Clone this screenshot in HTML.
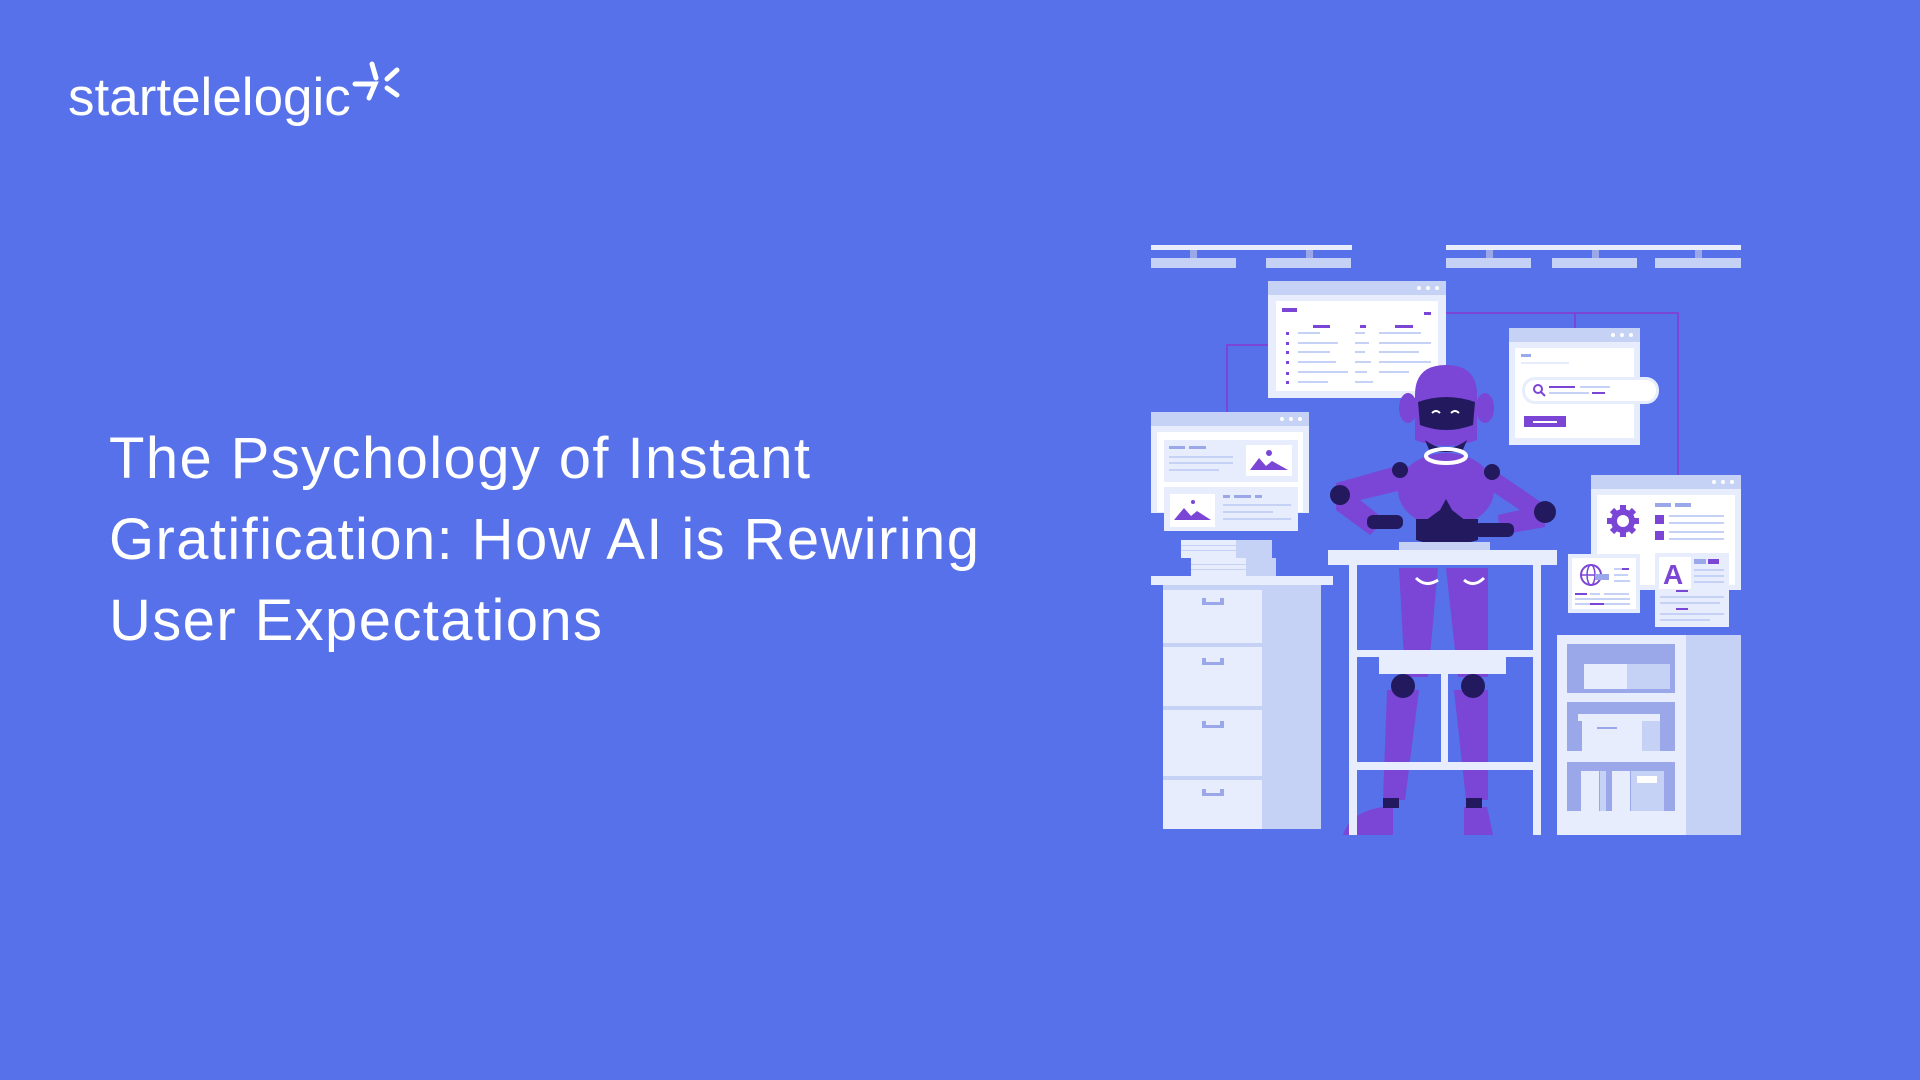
<!DOCTYPE html>
<html><head><meta charset="utf-8"><style>
html,body{margin:0;padding:0;}
body{width:1920px;height:1080px;background:#5671E9;position:relative;overflow:hidden;font-family:"Liberation Sans",sans-serif;}
.logo{position:absolute;left:68px;top:66px;font-size:53px;color:#fff;letter-spacing:0px;line-height:64px;}
.title{position:absolute;left:109px;top:418px;font-size:58px;line-height:81px;color:#fff;letter-spacing:1.4px;width:1000px;}
svg{position:absolute;left:0;top:0;}
</style></head><body>
<div class="logo">startelelogic</div>
<div class="title">The Psychology of Instant<br>Gratification: How AI is Rewiring<br>User Expectations</div>
<svg width="1920" height="1080" viewBox="0 0 1920 1080">
<g stroke="#fff" stroke-width="5" stroke-linecap="round">
<line x1="372" y1="64" x2="376" y2="78"/><line x1="397" y1="70" x2="387" y2="79"/><line x1="397" y1="95" x2="387" y2="88"/>
<path d="M355 84 L375 84 L369 98" fill="none"/>
</g>
<g fill="#C5D1F5">
<rect x="1151" y="245" width="201" height="5" fill="#E8EDFD"/><rect x="1446" y="245" width="295" height="5" fill="#E8EDFD"/>
<rect x="1151" y="258" width="85" height="10"/><rect x="1266" y="258" width="85" height="10"/>
<rect x="1446" y="258" width="85" height="10"/><rect x="1552" y="258" width="85" height="10"/><rect x="1655" y="258" width="86" height="10"/>
<rect x="1190" y="250" width="7" height="8" fill="#9AA8EA"/><rect x="1306" y="250" width="7" height="8" fill="#9AA8EA"/>
<rect x="1486" y="250" width="7" height="8" fill="#9AA8EA"/><rect x="1592" y="250" width="7" height="8" fill="#9AA8EA"/><rect x="1695" y="250" width="7" height="8" fill="#9AA8EA"/>
</g>
<g stroke="#7B45D6" stroke-width="2" fill="none">
<path d="M1446 313 H1678 V475"/><path d="M1575 313 V328"/><path d="M1268 345 H1227 V412"/>
</g>
<rect x="1268" y="281" width="178" height="117" fill="#E8EDFD"/><rect x="1268" y="281" width="178" height="14" fill="#C5D1F5"/>
<rect x="1276" y="301" width="162" height="90" fill="#fff"/>
<g fill="#fff"><circle cx="1419" cy="288" r="2"/><circle cx="1428" cy="288" r="2"/><circle cx="1437" cy="288" r="2"/></g>
<g fill="#7B45D6"><rect x="1282" y="308" width="15" height="4"/><rect x="1424" y="312" width="7" height="3"/><rect x="1313" y="325" width="17" height="3"/><rect x="1360" y="325" width="6" height="3"/><rect x="1395" y="325" width="18" height="3"/>
<rect x="1286" y="332" width="3" height="3"/><rect x="1286" y="342" width="3" height="3"/><rect x="1286" y="351" width="3" height="3"/><rect x="1286" y="361" width="3" height="3"/><rect x="1286" y="372" width="3" height="3"/><rect x="1286" y="381" width="3" height="3"/></g>
<g fill="#C5D1F5"><rect x="1298" y="332" width="22" height="2"/><rect x="1298" y="342" width="40" height="2"/><rect x="1298" y="351" width="32" height="2"/><rect x="1298" y="361" width="38" height="2"/><rect x="1298" y="371" width="50" height="2"/><rect x="1298" y="381" width="30" height="2"/>
<rect x="1355" y="332" width="10" height="2"/><rect x="1355" y="342" width="14" height="2"/><rect x="1355" y="351" width="10" height="2"/><rect x="1355" y="361" width="16" height="2"/><rect x="1355" y="371" width="12" height="2"/><rect x="1355" y="381" width="18" height="2"/>
<rect x="1379" y="332" width="42" height="2"/><rect x="1379" y="342" width="52" height="2"/><rect x="1379" y="351" width="40" height="2"/><rect x="1379" y="361" width="52" height="2"/><rect x="1379" y="371" width="30" height="2"/></g>
<rect x="1509" y="328" width="131" height="117" fill="#E8EDFD"/><rect x="1509" y="328" width="131" height="14" fill="#C5D1F5"/>
<rect x="1515" y="348" width="119" height="90" fill="#fff"/>
<g fill="#fff"><circle cx="1613" cy="335" r="2"/><circle cx="1622" cy="335" r="2"/><circle cx="1631" cy="335" r="2"/></g>
<rect x="1521" y="354" width="10" height="3" fill="#9AA8EA"/><rect x="1521" y="362" width="48" height="2" fill="#E8EDFD"/>
<rect x="1522" y="377" width="137" height="27" rx="13" fill="#E8EDFD"/><rect x="1525" y="380" width="131" height="21" rx="10" fill="#fff"/>
<circle cx="1538" cy="389" r="4" fill="none" stroke="#7B45D6" stroke-width="2"/><line x1="1541" y1="392" x2="1545" y2="396" stroke="#7B45D6" stroke-width="2"/>
<rect x="1549" y="386" width="26" height="2" fill="#7B45D6"/><rect x="1580" y="386" width="30" height="2" fill="#C5D1F5"/><rect x="1549" y="392" width="40" height="2" fill="#C5D1F5"/><rect x="1592" y="392" width="13" height="2" fill="#7B45D6"/>
<rect x="1524" y="416" width="42" height="11" fill="#7B45D6"/><rect x="1533" y="421" width="24" height="2" fill="#fff"/>
<rect x="1151" y="412" width="158" height="101" fill="#E8EDFD"/><rect x="1151" y="412" width="158" height="14" fill="#C5D1F5"/>
<rect x="1157" y="432" width="146" height="80" fill="#fff"/>
<g fill="#fff"><circle cx="1282" cy="419" r="2"/><circle cx="1291" cy="419" r="2"/><circle cx="1300" cy="419" r="2"/></g>
<rect x="1164" y="440" width="134" height="42" fill="#E8EDFD"/>
<rect x="1246" y="445" width="46" height="31" fill="#fff"/><path d="M1250 470 L1259 458 L1266 466 L1272 461 L1288 470Z" fill="#7B45D6"/><circle cx="1269" cy="453" r="3" fill="#7B45D6"/>
<rect x="1169" y="446" width="16" height="3" fill="#9AA8EA"/><rect x="1189" y="446" width="17" height="3" fill="#9AA8EA"/>
<g fill="#C5D1F5"><rect x="1169" y="456" width="64" height="2"/><rect x="1169" y="462" width="64" height="2"/><rect x="1169" y="469" width="50" height="2"/></g>
<rect x="1164" y="487" width="134" height="44" fill="#E8EDFD"/>
<rect x="1170" y="494" width="45" height="33" fill="#fff"/><path d="M1174 520 L1184 508 L1191 516 L1197 511 L1211 520Z" fill="#7B45D6"/><circle cx="1193" cy="502" r="2" fill="#7B45D6"/>
<g fill="#9AA8EA"><rect x="1223" y="495" width="7" height="3"/><rect x="1234" y="495" width="17" height="3"/><rect x="1255" y="495" width="7" height="3"/></g>
<g fill="#C5D1F5"><rect x="1223" y="504" width="68" height="2"/><rect x="1223" y="511" width="50" height="2"/><rect x="1223" y="518" width="68" height="2"/></g>
<rect x="1591" y="475" width="150" height="115" fill="#E8EDFD"/><rect x="1591" y="475" width="150" height="14" fill="#C5D1F5"/>
<rect x="1597" y="495" width="138" height="90" fill="#fff"/>
<g fill="#fff"><circle cx="1714" cy="482" r="2"/><circle cx="1723" cy="482" r="2"/><circle cx="1732" cy="482" r="2"/></g>
<circle cx="1623" cy="521" r="12" fill="#7B45D6"/><g stroke="#7B45D6" stroke-width="6"><line x1="1623" y1="505" x2="1623" y2="537"/><line x1="1607" y1="521" x2="1639" y2="521"/><line x1="1612" y1="510" x2="1634" y2="532"/><line x1="1634" y1="510" x2="1612" y2="532"/></g><circle cx="1623" cy="521" r="6" fill="#fff"/>
<rect x="1655" y="503" width="16" height="4" fill="#9AA8EA"/><rect x="1675" y="503" width="16" height="4" fill="#9AA8EA"/>
<rect x="1655" y="515" width="9" height="9" fill="#7B45D6"/><rect x="1655" y="531" width="9" height="9" fill="#7B45D6"/>
<g fill="#C5D1F5"><rect x="1669" y="515" width="55" height="2"/><rect x="1669" y="522" width="55" height="2"/><rect x="1669" y="531" width="55" height="2"/><rect x="1669" y="538" width="55" height="2"/></g>
<rect x="1568" y="554" width="72" height="59" fill="#E8EDFD"/><rect x="1572" y="558" width="64" height="51" fill="#fff"/>
<circle cx="1591" cy="575" r="10" fill="none" stroke="#7B45D6" stroke-width="2"/><ellipse cx="1591" cy="575" rx="4" ry="10" fill="none" stroke="#7B45D6" stroke-width="1.5"/><line x1="1581" y1="575" x2="1601" y2="575" stroke="#7B45D6" stroke-width="1.5"/>
<rect x="1595" y="574" width="14" height="6" fill="#9AA8EA"/>
<rect x="1614" y="568" width="8" height="2" fill="#C5D1F5"/><rect x="1622" y="568" width="7" height="2" fill="#7B45D6"/><rect x="1614" y="574" width="14" height="2" fill="#C5D1F5"/><rect x="1614" y="580" width="16" height="2" fill="#C5D1F5"/>
<rect x="1575" y="593" width="12" height="2" fill="#7B45D6"/><g fill="#C5D1F5"><rect x="1590" y="593" width="10" height="2"/><rect x="1604" y="593" width="25" height="2"/><rect x="1575" y="598" width="55" height="2"/><rect x="1575" y="603" width="55" height="2"/></g><rect x="1590" y="603" width="14" height="2" fill="#7B45D6"/>
<rect x="1655" y="553" width="74" height="74" fill="#E8EDFD"/><rect x="1659" y="557" width="32" height="32" fill="#fff"/>
<text x="1663" y="584" font-family="Liberation Sans" font-weight="bold" font-size="28" fill="#7B45D6">A</text>
<rect x="1694" y="559" width="12" height="5" fill="#9AA8EA"/><rect x="1708" y="559" width="11" height="5" fill="#7B45D6"/>
<g fill="#C5D1F5"><rect x="1694" y="569" width="30" height="2"/><rect x="1694" y="575" width="30" height="2"/><rect x="1694" y="581" width="30" height="2"/><rect x="1660" y="596" width="64" height="2"/><rect x="1660" y="602" width="60" height="2"/><rect x="1660" y="613" width="64" height="2"/><rect x="1660" y="619" width="50" height="2"/></g>
<rect x="1676" y="590" width="12" height="2" fill="#7B45D6"/><rect x="1676" y="608" width="12" height="2" fill="#7B45D6"/>
<rect x="1181" y="540" width="55" height="18" fill="#E8EDFD"/><rect x="1236" y="540" width="36" height="18" fill="#C5D1F5"/>
<rect x="1191" y="558" width="55" height="18" fill="#E8EDFD"/><rect x="1246" y="558" width="30" height="18" fill="#C5D1F5"/>
<g fill="#C5D1F5"><rect x="1181" y="545" width="55" height="1"/><rect x="1181" y="550" width="55" height="1"/><rect x="1191" y="564" width="55" height="1"/><rect x="1191" y="569" width="55" height="1"/></g>
<rect x="1151" y="576" width="182" height="9" fill="#E8EDFD"/>
<rect x="1163" y="585" width="158" height="244" fill="#C5D1F5"/>
<rect x="1163" y="585" width="99" height="244" fill="#E8EDFD"/>
<g fill="#C5D1F5"><rect x="1163" y="585" width="99" height="5"/><rect x="1163" y="643" width="99" height="4"/><rect x="1163" y="706" width="99" height="4"/><rect x="1163" y="776" width="99" height="4"/></g>
<g fill="#9AA8EA"><rect x="1202" y="598" width="22" height="7"/><rect x="1202" y="658" width="22" height="7"/><rect x="1202" y="721" width="22" height="7"/><rect x="1202" y="789" width="22" height="7"/></g>
<g fill="#E8EDFD"><rect x="1206" y="598" width="14" height="4"/><rect x="1206" y="658" width="14" height="4"/><rect x="1206" y="721" width="14" height="4"/><rect x="1206" y="789" width="14" height="4"/></g>
<rect x="1557" y="635" width="184" height="200" fill="#E8EDFD"/><rect x="1686" y="635" width="55" height="200" fill="#C5D1F5"/>
<g fill="#9AA8EA"><rect x="1567" y="644" width="108" height="49"/><rect x="1567" y="702" width="108" height="49"/><rect x="1567" y="762" width="108" height="49"/></g>
<rect x="1584" y="664" width="43" height="25" fill="#E8EDFD"/><rect x="1627" y="664" width="43" height="12" fill="#C5D1F5"/><rect x="1627" y="676" width="43" height="13" fill="#C5D1F5"/>
<rect x="1578" y="714" width="82" height="7" fill="#E8EDFD"/><rect x="1582" y="721" width="60" height="30" fill="#E8EDFD"/><rect x="1642" y="721" width="18" height="30" fill="#C5D1F5"/><rect x="1597" y="727" width="20" height="2" fill="#9AA8EA"/>
<rect x="1581" y="771" width="18" height="40" fill="#E8EDFD"/><rect x="1600" y="771" width="6" height="40" fill="#C5D1F5"/><rect x="1612" y="771" width="18" height="40" fill="#E8EDFD"/><rect x="1631" y="771" width="33" height="40" fill="#C5D1F5"/><rect x="1637" y="776" width="20" height="7" fill="#fff"/>
<g fill="#7B45D6">
<path d="M1399 568 L1438 568 L1428 677 L1405 677Z"/><path d="M1446 568 L1488 568 L1488 677 L1458 677Z"/>
<path d="M1387 690 L1419 690 L1405 800 L1383 800Z"/><path d="M1454 690 L1488 690 L1488 800 L1466 800Z"/>
<path d="M1343 835 Q1350 812 1383 807 L1393 807 L1393 835Z"/><path d="M1464 807 L1487 807 L1493 835 L1464 835Z"/>
</g>
<g fill="#22195E"><circle cx="1403" cy="686" r="12"/><circle cx="1473" cy="686" r="12"/><rect x="1383" y="798" width="16" height="10"/><rect x="1466" y="798" width="16" height="10"/></g>
<path d="M1416 578 Q1426 588 1438 580 M1464 580 Q1474 588 1484 578" stroke="#fff" stroke-width="3" fill="none"/>
<g fill="#E8EDFD">
<rect x="1328" y="550" width="229" height="15"/><rect x="1349" y="565" width="8" height="270"/><rect x="1533" y="565" width="8" height="270"/>
<rect x="1349" y="650" width="192" height="7"/><rect x="1349" y="762" width="192" height="8"/>
<rect x="1379" y="650" width="127" height="24"/><rect x="1441" y="674" width="7" height="88"/>
</g>
<g fill="#7B45D6">
<path d="M1336 483 L1400 465 L1402 490 L1360 500 L1385 520 L1370 535 L1336 510Z"/>
<path d="M1494 470 L1545 505 L1545 527 L1500 535 L1498 515 L1520 510 L1490 490Z"/>
<ellipse cx="1446" cy="490" rx="48" ry="37"/>
<ellipse cx="1408" cy="408" rx="9" ry="15"/><ellipse cx="1485" cy="408" rx="9" ry="15"/>
<path d="M1415 395 Q1415 365 1446 365 Q1477 365 1477 395 L1477 440 Q1446 452 1415 440Z"/>
</g>
<g fill="#22195E">
<path d="M1418 402 Q1446 392 1475 402 L1473 425 Q1446 435 1420 425Z"/>
<path d="M1425 440 Q1446 456 1467 440 L1462 452 L1430 452Z"/>
<path d="M1416 519 L1478 519 L1478 540 Q1446 550 1416 540Z"/>
<path d="M1425 521 L1440 510 L1446 499 L1452 510 L1466 521Z"/>
<rect x="1367" y="515" width="36" height="14" rx="6"/><rect x="1474" y="523" width="40" height="14" rx="6"/>
<circle cx="1340" cy="495" r="10"/><circle cx="1545" cy="512" r="11"/>
<circle cx="1400" cy="470" r="8"/><circle cx="1492" cy="472" r="8"/>
</g>
<ellipse cx="1446" cy="456" rx="20" ry="7" fill="none" stroke="#fff" stroke-width="4"/>
<path d="M1432 413 q4 -4 8 0 M1451 413 q4 -4 8 0" stroke="#fff" stroke-width="2" fill="none"/>
<rect x="1399" y="542" width="91" height="8" fill="#C5D1F5"/>
</svg>
</body></html>
